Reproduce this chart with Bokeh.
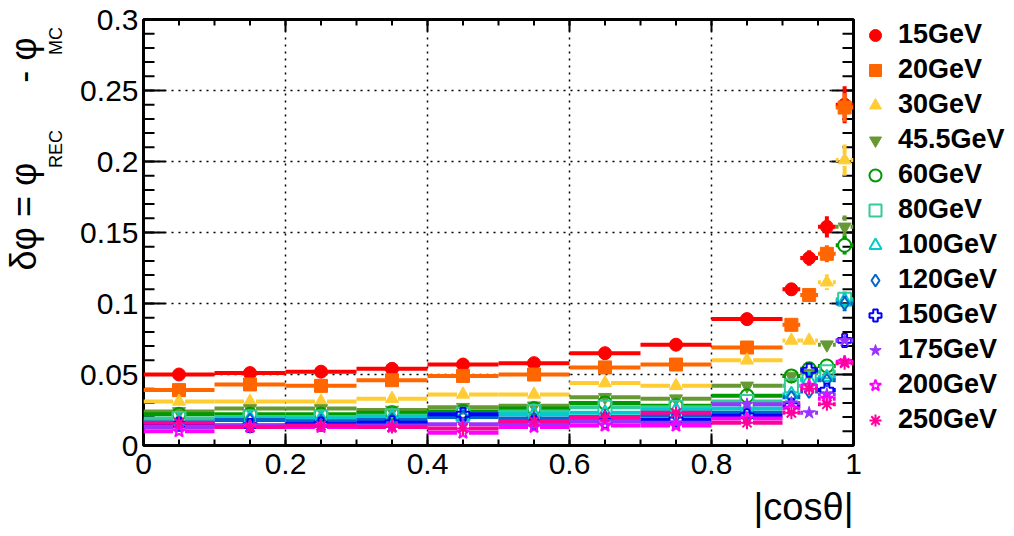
import math
from bokeh.plotting import figure
from bokeh.models import FixedTicker, Range1d, Legend, LegendItem, ColumnDataSource, Title
from bokeh.embed import file_html
from bokeh.resources import INLINE

# |cos(theta)| bins
bin_lo = [0.0, 0.1, 0.2, 0.3, 0.4, 0.5, 0.6, 0.7, 0.8, 0.9, 0.925, 0.95, 0.975]
bin_hi = [0.1, 0.2, 0.3, 0.4, 0.5, 0.6, 0.7, 0.8, 0.9, 0.925, 0.95, 0.975, 1.0]

energy_labels = ["15GeV", "20GeV", "30GeV", "45.5GeV", "60GeV", "80GeV",
                 "100GeV", "120GeV", "150GeV", "175GeV", "200GeV", "250GeV"]

dphi_15 = [0.050, 0.051, 0.052, 0.054, 0.057, 0.058, 0.065, 0.071, 0.089, 0.110, 0.132, 0.154, 0.240]
dphi_20 = [0.039, 0.043, 0.042, 0.046, 0.049, 0.050, 0.055, 0.057, 0.069, 0.085, 0.106, 0.135, 0.238]
dphi_30 = [0.031, 0.031, 0.031, 0.033, 0.036, 0.036, 0.044, 0.042, 0.060, 0.074, 0.074, 0.115, 0.201]
dphi_45 = [0.024, 0.026, 0.026, 0.025, 0.027, 0.028, 0.034, 0.033, 0.042, 0.049, 0.051, 0.071, 0.154]
dphi_60 = [0.022, 0.022, 0.022, 0.023, 0.024, 0.026, 0.030, 0.028, 0.035, 0.049, 0.054, 0.056, 0.141]
dphi_80 = [0.019, 0.020, 0.020, 0.021, 0.022, 0.024, 0.027, 0.027, 0.031, 0.042, 0.047, 0.052, 0.103]
dphi_100 = [0.017, 0.019, 0.019, 0.020, 0.021, 0.022, 0.023, 0.025, 0.026, 0.036, 0.046, 0.048, 0.102]
dphi_120 = [0.016, 0.018, 0.017, 0.018, 0.020, 0.019, 0.020, 0.021, 0.023, 0.034, 0.038, 0.046, 0.100]
dphi_150 = [0.015, 0.014, 0.015, 0.016, 0.022, 0.016, 0.017, 0.018, 0.021, 0.028, 0.053, 0.039, 0.074]
dphi_175 = [0.013, 0.014, 0.013, 0.014, 0.015, 0.015, 0.017, 0.016, 0.029, 0.030, 0.023, 0.036, 0.074]
dphi_200 = [0.010, 0.013, 0.013, 0.013, 0.009, 0.013, 0.014, 0.014, 0.019, 0.026, 0.042, 0.033, 0.059]
dphi_250 = [0.016, 0.013, 0.014, 0.013, 0.012, 0.017, 0.020, 0.023, 0.016, 0.023, 0.040, 0.029, 0.058]

err_15 = [0.0010, 0.0010, 0.0010, 0.0010, 0.0010, 0.0010, 0.0012, 0.0014, 0.0020, 0.0045, 0.0055, 0.0075, 0.0130]
err_20 = [0.0008, 0.0008, 0.0008, 0.0009, 0.0009, 0.0010, 0.0011, 0.0012, 0.0018, 0.0035, 0.0045, 0.0060, 0.0100]
err_30 = [0.0007, 0.0007, 0.0007, 0.0008, 0.0008, 0.0008, 0.0010, 0.0010, 0.0015, 0.0030, 0.0035, 0.0055, 0.0110]
err_45 = [0.0006, 0.0006, 0.0006, 0.0006, 0.0007, 0.0007, 0.0008, 0.0008, 0.0012, 0.0025, 0.0025, 0.0040, 0.0080]
err_60 = [0.0005, 0.0005, 0.0005, 0.0006, 0.0006, 0.0006, 0.0007, 0.0007, 0.0010, 0.0020, 0.0025, 0.0035, 0.0065]
err_80 = [0.0005, 0.0005, 0.0005, 0.0005, 0.0005, 0.0006, 0.0006, 0.0006, 0.0008, 0.0015, 0.0020, 0.0030, 0.0055]
err_100 = [0.0005, 0.0005, 0.0005, 0.0005, 0.0005, 0.0005, 0.0006, 0.0006, 0.0008, 0.0015, 0.0020, 0.0030, 0.0055]
err_120 = [0.0005, 0.0005, 0.0005, 0.0005, 0.0005, 0.0005, 0.0005, 0.0006, 0.0007, 0.0015, 0.0020, 0.0030, 0.0055]
err_150 = [0.0004, 0.0004, 0.0004, 0.0004, 0.0005, 0.0005, 0.0005, 0.0005, 0.0007, 0.0015, 0.0025, 0.0025, 0.0045]
err_175 = [0.0004, 0.0004, 0.0004, 0.0004, 0.0004, 0.0005, 0.0005, 0.0005, 0.0007, 0.0015, 0.0015, 0.0025, 0.0045]
err_200 = [0.0004, 0.0004, 0.0004, 0.0004, 0.0004, 0.0004, 0.0005, 0.0005, 0.0006, 0.0015, 0.0025, 0.0025, 0.0040]
err_250 = [0.0004, 0.0004, 0.0004, 0.0004, 0.0004, 0.0004, 0.0005, 0.0005, 0.0006, 0.0015, 0.0025, 0.0025, 0.0040]

series_values = [dphi_15, dphi_20, dphi_30, dphi_45, dphi_60, dphi_80,
                 dphi_100, dphi_120, dphi_150, dphi_175, dphi_200, dphi_250]
series_errors = [err_15, err_20, err_30, err_45, err_60, err_80,
                 err_100, err_120, err_150, err_175, err_200, err_250]

colors = ["#FF0000", "#FF6600", "#FFCC33", "#669933", "#009900", "#33CC99",
          "#00CCCC", "#0066CC", "#0000FF", "#9933FF", "#FF00FF", "#FF0099"]
markers = ["circle", "square", "triangle", "inverted_triangle", "circle", "square",
           "triangle", "diamond", "plus", "star", "star", "asterisk"]
filled = [True, True, True, True, False, False, False, False, False, True, False, False]

x_major = [0, 0.2, 0.4, 0.6, 0.8, 1]
x_minor = [i * 0.05 for i in range(21)]
y_major = [0, 0.05, 0.1, 0.15, 0.2, 0.25, 0.3]
y_minor = [i * 0.01 for i in range(31)]
x_lab = {0: "0", 0.2: "0.2", 0.4: "0.4", 0.6: "0.6", 0.8: "0.8", 1: "1"}
y_lab = {0: "0", 0.05: "0.05", 0.1: "0.1", 0.15: "0.15", 0.2: "0.2", 0.25: "0.25", 0.3: "0.3"}

FONT = "Liberation Sans"
FRAME_W, FRAME_H = 710, 426
X0, X1, Y0, Y1 = 0.0, 1.0, 0.0, 0.3
NB = "\u00a0"

p = figure(frame_width=FRAME_W, frame_height=FRAME_H,
           x_range=Range1d(X0, X1), y_range=Range1d(Y0, Y1),
           output_backend="svg", toolbar_location=None,
           min_border_left=143, min_border_right=161,
           min_border_top=19, min_border_bottom=91,
           background_fill_color="white", border_fill_color="white")

p.outline_line_color = "black"
p.outline_line_width = 3

xa = p.xaxis[0]
xa.ticker = FixedTicker(ticks=x_major, minor_ticks=x_minor)
xa.major_label_overrides = x_lab
ya = p.yaxis[0]
ya.ticker = FixedTicker(ticks=y_major, minor_ticks=y_minor)
ya.major_label_overrides = y_lab
for ax in (xa, ya):
    ax.axis_line_color = None
    ax.major_tick_in = 0
    ax.major_tick_out = 0
    ax.minor_tick_in = 0
    ax.minor_tick_out = 0
    ax.major_tick_line_color = None
    ax.minor_tick_line_color = None
    ax.major_label_text_font = FONT
    ax.major_label_text_font_size = "30px"
    ax.major_label_text_color = "black"
ya.major_label_standoff = 5
xa.major_label_standoff = 8

# subscripts of the y title, carried by the y axis label
ya.axis_label = NB * 54 + "REC" + NB * 15 + "MC"
ya.axis_label_text_font = FONT
ya.axis_label_text_font_size = "18px"
ya.axis_label_text_font_style = "normal"
ya.axis_label_text_color = "black"
ya.axis_label_standoff = 11

p.xgrid.ticker = FixedTicker(ticks=[0.2, 0.4, 0.6, 0.8])
p.ygrid.ticker = FixedTicker(ticks=[0.05, 0.1, 0.15, 0.2, 0.25])
for g in (p.xgrid, p.ygrid):
    g.grid_line_color = "black"
    g.grid_line_width = 1.5
    g.grid_line_dash = "2 5"

# inward ticks on all four sides (ROOT style), lengths in pixels -> data
dx_px = (X1 - X0) / FRAME_W
dy_px = (Y1 - Y0) / FRAME_H
tx0, ty0, tx1, ty1 = [], [], [], []
for t, ln in [(t, 22) for t in y_major] + [(t, 11) for t in y_minor]:
    tx0 += [X0, X1]; tx1 += [X0 + ln * dx_px, X1 - ln * dx_px]; ty0 += [t, t]; ty1 += [t, t]
for t, ln in [(t, 12) for t in x_major] + [(t, 6) for t in x_minor]:
    tx0 += [t, t]; tx1 += [t, t]; ty0 += [Y0, Y1]; ty1 += [Y0 + ln * dy_px, Y1 - ln * dy_px]
p.segment(tx0, ty0, tx1, ty1, line_color="black", line_width=2)

gx = 6 * dx_px
gy = 6 * dy_px

legend_items = []
for lab, vals, errs, col, mk, fl in zip(energy_labels, series_values, series_errors,
                                        colors, markers, filled):
    xc = [(a + b) / 2 for a, b in zip(bin_lo, bin_hi)]
    x0, y0, x1, y1 = [], [], [], []
    for lo, hi, c, v, e in zip(bin_lo, bin_hi, xc, vals, errs):
        x0 += [lo, c + gx]
        x1 += [c - gx, hi]
        y0 += [v, v]
        y1 += [v, v]
        if e > gy:
            x0 += [c, c]
            x1 += [c, c]
            y0 += [v - e, v + gy]
            y1 += [v - gy, v + e]
    seg_src = ColumnDataSource(dict(x0=x0, y0=y0, x1=x1, y1=y1))
    p.segment("x0", "y0", "x1", "y1", source=seg_src, line_color=col, line_width=4)
    src = ColumnDataSource(dict(x=xc, y=vals))
    if fl:
        r = p.scatter("x", "y", source=src, marker=mk, size=13,
                      fill_color=col, line_color=col, line_width=1)
    else:
        r = p.scatter("x", "y", source=src, marker=mk, size=13,
                      fill_color=None, line_color=col, line_width=2)
    legend_items.append(LegendItem(label=lab, renderers=[r]))

legend = Legend(items=legend_items, location="top_left",
                label_text_font=FONT, label_text_font_style="bold",
                label_text_font_size="27px", label_text_color="black",
                glyph_width=44, glyph_height=30, label_height=30,
                spacing=4, padding=0, margin=0, label_standoff=1,
                border_line_color=None, background_fill_alpha=0)
p.add_layout(legend, "right")

TITLE_PROPS = Title.properties()


def make_title(**kw):
    return Title(**{k: v for k, v in kw.items() if k in TITLE_PROPS})


y_main = make_title(text="δφ = φ" + NB * 8 + "- φ", align="left", offset=175,
                    standoff=0, vertical_align="bottom", text_font=FONT,
                    text_font_size="36px", text_font_style="normal",
                    text_color="black")
p.add_layout(y_main, "left")

x_title = make_title(text="|cosθ|", align="right", offset=0, standoff=14,
                     text_font=FONT, text_font_size="38px",
                     text_font_style="normal", text_color="black")
p.add_layout(x_title, "below")

open("out.html", "w").write(file_html(p, INLINE))
